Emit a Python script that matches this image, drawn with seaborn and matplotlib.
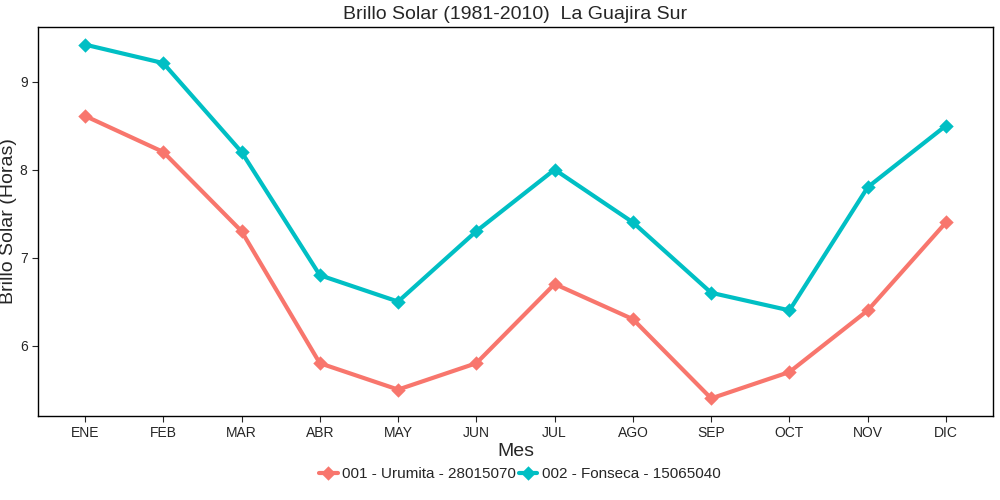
import pandas as pd
import seaborn as sns
import matplotlib.pyplot as plt

meses = ['ENE', 'FEB', 'MAR', 'ABR', 'MAY', 'JUN', 'JUL', 'AGO', 'SEP', 'OCT', 'NOV', 'DIC']
urumita = [8.61, 8.2, 7.3, 5.8, 5.5, 5.8, 6.7, 6.3, 5.4, 5.7, 6.4, 7.4]
fonseca = [9.42, 9.21, 8.2, 6.8, 6.5, 7.3, 8.0, 7.4, 6.6, 6.4, 7.8, 8.5]
estaciones = ['001 - Urumita - 28015070', '002 - Fonseca - 15065040']

df = pd.DataFrame({
    'Mes': meses * 2,
    'Brillo': urumita + fonseca,
    'Estacion': [estaciones[0]] * 12 + [estaciones[1]] * 12,
})

sns.set_style('white')
plt.rcParams['font.family'] = ['Liberation Sans', 'DejaVu Sans']

fig, ax = plt.subplots(figsize=(10, 5), dpi=100)
sns.pointplot(data=df, x='Mes', y='Brillo', hue='Estacion', order=meses,
              palette=['#F8766D', '#00BFC4'], markers='D',
              linewidth=3, markersize=5, ax=ax)

ax.set_xlim(-0.6, 11.6)
ax.set_ylim(5.2, 9.62)
ax.set_yticks([6, 7, 8, 9])
ax.set_title('Brillo Solar (1981-2010)  La Guajira Sur', fontsize=14)
ax.set_xlabel('Mes', fontsize=14, labelpad=2)
ax.set_ylabel('Brillo Solar (Horas)', fontsize=14)
ax.yaxis.set_label_coords(-0.022, 0.5)
ax.tick_params(axis='both', labelsize=10, length=4, direction='out', bottom=True, left=True)
for s in ax.spines.values():
    s.set_color('black')
    s.set_linewidth(1)

ax.get_legend().remove()
handles, labels = ax.get_legend_handles_labels()
fig.legend(handles, labels, loc='center', bbox_to_anchor=(0.52, 0.052), ncol=2,
           frameon=False, fontsize=11, handlelength=1.2, columnspacing=0.2, handletextpad=0.3)

plt.subplots_adjust(left=0.038, right=0.993, top=0.946, bottom=0.168)
fig.savefig('out.png')
